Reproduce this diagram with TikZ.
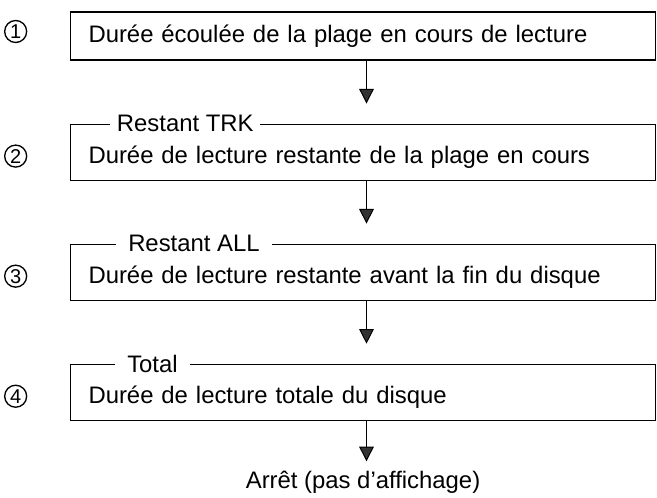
\documentclass[tikz,border=0pt]{standalone}
\usepackage{fontspec}
\setmainfont{Liberation Sans}
\usetikzlibrary{positioning,arrows.meta}

\begin{document}
\begin{tikzpicture}[
    x=0.75pt, y=-0.75pt,
    readout/.style={rectangle, draw, line width=0.8pt, text width=411.75pt, align=left, inner xsep=13.5pt, inner ysep=0pt, minimum height=42pt, font=\fontsize{17.9}{22}\selectfont},
    tagged/.style={text height=20.8pt, text depth=3.8pt},
    tag/.style={fill=white, inner xsep=9pt, inner ysep=0pt, anchor=west, font=\fontsize{17.9}{22}\selectfont},
    num/.style={circle, draw, line width=1pt, minimum size=16.5pt, inner sep=0pt, font=\fontsize{15}{15}\selectfont},
    flow/.style={-{Triangle[width=11pt,length=11pt,fill=black!80]}, line width=0.75pt, shorten >=15pt},
    node distance=47.25pt
]
    \path[use as bounding box, fill=white] (0,0) rectangle (657,498);

    \node[readout, minimum height=36pt, anchor=north west] (elapsed) at (70,11.5) {Durée écoulée de la plage en cours de lecture};
    \node[readout, tagged, below=of elapsed] (remtrk) {Durée de lecture restante de la plage en cours};
    \node[readout, tagged, below=of remtrk] (remall) {Durée de lecture restante avant la fin du disque};
    \node[readout, tagged, below=of remall] (total) {Durée de lecture totale du disque};
    \node[inner sep=0pt, font=\fontsize{17.9}{22}\selectfont] (stop) at ([yshift=-46pt]total.south) {Arrêt (pas d'affichage)};

    \node[tag, inner xsep=5pt] (trk) at ([xshift=30pt]remtrk.north west) {Restant TRK};
    \node[tag] (all) at ([xshift=34.5pt]remall.north west) {Restant ALL};
    \node[tag] (tot) at ([xshift=33.75pt]total.north west) {Total};

    \node[num, left=32pt of elapsed, yshift=3.4pt] (n1) {1};
    \node[num, left=32pt of remtrk, yshift=-3pt] (n2) {2};
    \node[num, left=32pt of remall, yshift=-3pt] (n3) {3};
    \node[num, left=32pt of total, yshift=-3pt] (n4) {4};

    \draw[flow] ([xshift=2.6pt]elapsed.south) -- ([xshift=2.6pt]remtrk.north);
    \draw[flow] ([xshift=2.6pt]remtrk.south) -- ([xshift=2.6pt]remall.north);
    \draw[flow] ([xshift=2.6pt]remall.south) -- ([xshift=2.6pt]total.north);
    \draw[flow, shorten >=7pt] ([xshift=2.6pt]total.south) -- ([xshift=2.6pt]total.south |- stop.north);
\end{tikzpicture}
\end{document}
